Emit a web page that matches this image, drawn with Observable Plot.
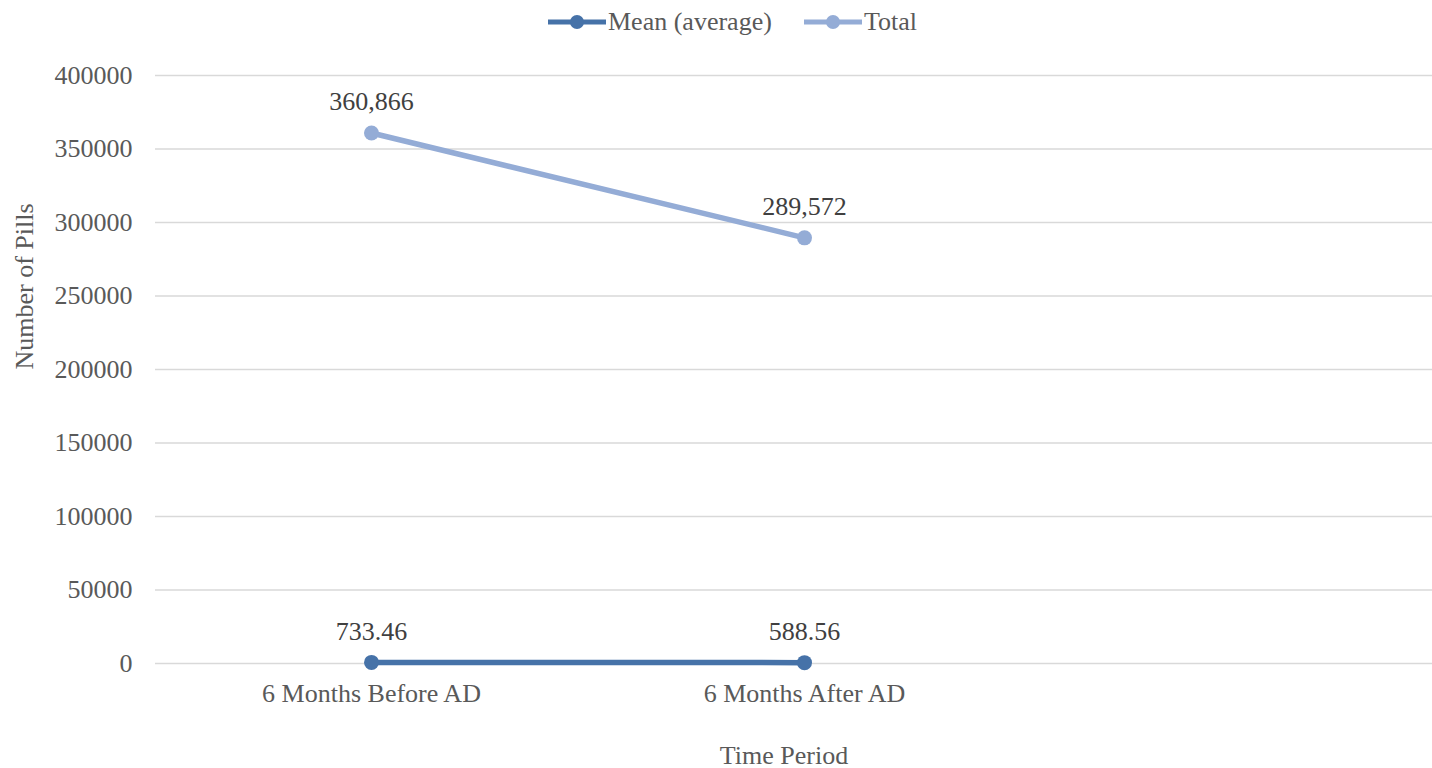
<!DOCTYPE html>
<html>
<head>
<meta charset="utf-8">
<script src="https://cdn.jsdelivr.net/npm/d3@7"></script>
<script src="https://cdn.jsdelivr.net/npm/@observablehq/plot@0.6"></script>
<style>
  html, body { margin: 0; padding: 0; background: #fff; overflow: hidden; }
  body { width: 1432px; height: 768px; font-family: "Liberation Serif", "Times New Roman", serif; color: #595959; }
  #legend { position: relative; height: 44px; }
  .item { position: absolute; top: 6px; display: flex; align-items: center; font-size: 26px; line-height: 32px; white-space: nowrap; }
  .item svg { margin-right: 2px; }
  #chart svg text { font-family: "Liberation Serif", "Times New Roman", serif; }
</style>
</head>
<body>
<div id="legend"></div>
<div id="chart"></div>
<script>
const periods = ["6 Months Before AD", "6 Months After AD"];
const seriesNames = ["Mean (average)", "Total"];
const meanValues = [733.46, 588.56];
const totalValues = [360866, 289572];
const meanLabels = ["733.46", "588.56"];
const totalLabels = ["360,866", "289,572"];
const yTicks = [0, 50000, 100000, 150000, 200000, 250000, 300000, 350000, 400000];
const seriesColors = ["#4672a8", "#94acd6"];
const legendLeft = [548, 804];

const rows = [];
periods.forEach((p, i) => {
  rows.push({period: p, series: seriesNames[0], value: meanValues[i], label: meanLabels[i]});
  rows.push({period: p, series: seriesNames[1], value: totalValues[i], label: totalLabels[i]});
});

// legend
const legend = document.getElementById("legend");
seriesNames.forEach((name, i) => {
  const div = document.createElement("div");
  div.className = "item";
  div.style.left = legendLeft[i] + "px";
  div.innerHTML = `<svg width="58" height="20"><line x1="0" x2="58" y1="10" y2="10" stroke="${seriesColors[i]}" stroke-width="5"/><circle cx="29" cy="10" r="7" fill="${seriesColors[i]}"/></svg><span>${name}</span>`;
  legend.appendChild(div);
});

const font = "Liberation Serif, Times New Roman, serif";
const chart = Plot.plot({
  width: 1432,
  height: 724,
  marginLeft: 155,
  marginRight: 0,
  marginTop: 31,
  marginBottom: 105,
  style: {fontFamily: font, fontSize: "26px", color: "#595959", background: "white"},
  x: {type: "point", domain: periods, range: [371, 804], padding: 0, align: 0.5},
  y: {domain: [0, 400000], ticks: yTicks},
  color: {domain: seriesNames, range: seriesColors},
  marks: [
    Plot.gridY(yTicks, {stroke: "#d9d9d9", strokeOpacity: 1, strokeWidth: 1.6}),
    Plot.axisY(yTicks, {tickSize: 0, tickPadding: 23, tickFormat: d => String(d), fill: "#595959", label: null, fontSize: 26}),
    Plot.axisX({tickSize: 0, tickPadding: 20, fill: "#595959", label: null, fontSize: 26}),
    Plot.text(["Number of Pills"], {frameAnchor: "left", rotate: -90, dx: -131, fill: "#595959", fontSize: 26, fontFamily: font}),
    Plot.text(["Time Period"], {frameAnchor: "bottom", dy: 100, dx: -10, fill: "#595959", fontSize: 26, fontFamily: font}),
    Plot.line(rows, {x: "period", y: "value", z: "series", stroke: "series", strokeWidth: 5.5}),
    Plot.dot(rows, {x: "period", y: "value", fill: "series", r: 7.5}),
    Plot.text(rows, {x: "period", y: "value", text: "label", dy: -31, fill: "#404040", fontSize: 26, fontFamily: font})
  ]
});
document.getElementById("chart").appendChild(chart);
</script>
</body>
</html>
